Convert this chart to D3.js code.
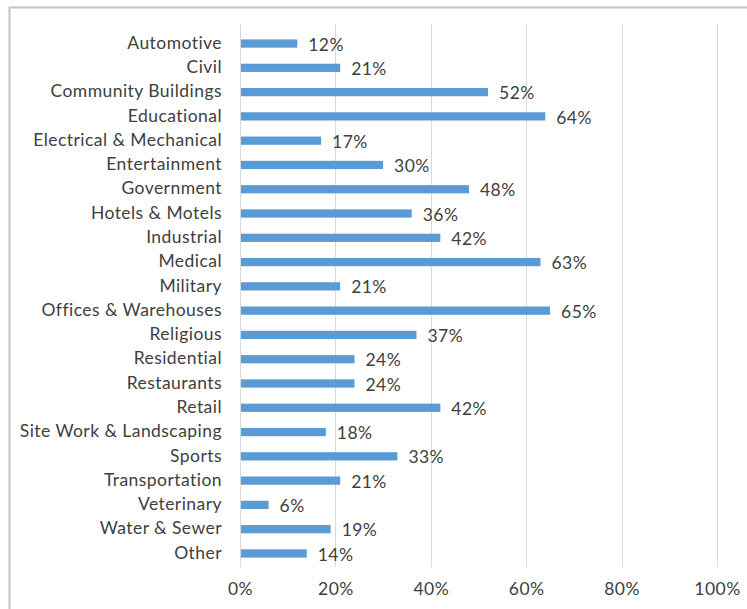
<!DOCTYPE html>
<html>
<head>
<meta charset="utf-8">
<script src="https://cdn.jsdelivr.net/npm/d3@7/dist/d3.min.js"></script>
<style>
html, body { margin: 0; padding: 0; background: #fff; }
svg { display: block; }
</style>
</head>
<body>
<svg id="chart" width="747" height="609"></svg>
<script>
const categories = [
  "Automotive", "Civil", "Community Buildings", "Educational",
  "Electrical & Mechanical", "Entertainment", "Government", "Hotels & Motels",
  "Industrial", "Medical", "Military", "Offices & Warehouses", "Religious",
  "Residential", "Restaurants", "Retail", "Site Work & Landscaping", "Sports",
  "Transportation", "Veterinary", "Water & Sewer", "Other"
];
const values = [12, 21, 52, 64, 17, 30, 48, 36, 42, 63, 21, 65, 37, 24, 24, 42, 18, 33, 21, 6, 19, 14];
const tickValues = [0, 20, 40, 60, 80, 100];

const svg = d3.select("#chart");
const font = "Lato, 'Open Sans', sans-serif";
const textColor = "#404040";
const fontSize = 17.5;
const spacing = "0.45px";

// frame
svg.append("rect")
  .attr("x", 9.5).attr("y", 7.5)
  .attr("width", 760).attr("height", 620)
  .attr("fill", "none").attr("stroke", "#c4c4c4").attr("stroke-width", 2);

const x = d3.scaleLinear().domain([0, 100]).range([240, 717]);
const y = d3.scaleBand().domain(categories).range([31.4, 565.6]).paddingInner(0.66).paddingOuter(0.33);

const gridTop = 24, gridBottom = 567;

// gridlines
svg.append("g").selectAll("line").data(tickValues.filter(d => d > 0)).join("line")
  .attr("x1", d => Math.round(x(d)) + 0.5).attr("x2", d => Math.round(x(d)) + 0.5)
  .attr("y1", gridTop).attr("y2", gridBottom)
  .attr("stroke", "#d9d9d9").attr("stroke-width", 1);

// bars
svg.append("g").selectAll("rect").data(categories).join("rect")
  .attr("x", x(0))
  .attr("y", d => y(d))
  .attr("width", (d, i) => x(values[i]) - x(0))
  .attr("height", y.bandwidth())
  .attr("fill", "#5b9bd5");

// vertical axis line
svg.append("line")
  .attr("x1", Math.round(x(0)) + 0.5).attr("x2", Math.round(x(0)) + 0.5)
  .attr("y1", gridTop).attr("y2", gridBottom)
  .attr("stroke", "#d9d9d9").attr("stroke-width", 1);

// y axis labels
const yAxis = d3.axisLeft(y).tickSize(0).tickPadding(18);
const gy = svg.append("g").attr("transform", `translate(${x(0)},0)`).call(yAxis);
gy.select(".domain").remove();
gy.selectAll("text").attr("font-family", font).attr("font-size", fontSize)
  .attr("letter-spacing", spacing).attr("fill", textColor).attr("dy", "0.3em");

// x axis labels
const xAxis = d3.axisBottom(x).tickValues(tickValues).tickSize(0).tickPadding(0).tickFormat(d => d + "%");
const gx = svg.append("g").attr("transform", `translate(0,${gridBottom + 23})`).call(xAxis);
gx.select(".domain").remove();
gx.selectAll("text").attr("font-family", font).attr("font-size", fontSize)
  .attr("letter-spacing", spacing).attr("fill", textColor).attr("dy", "0.3em");

// value labels
svg.append("g").selectAll("text").data(categories).join("text")
  .attr("x", (d, i) => x(values[i]) + 11)
  .attr("y", d => y(d) + y.bandwidth() / 2 + 1)
  .attr("dy", "0.35em")
  .attr("font-family", font).attr("font-size", fontSize)
  .attr("letter-spacing", spacing).attr("fill", textColor)
  .text((d, i) => values[i] + "%");
</script>
</body>
</html>
